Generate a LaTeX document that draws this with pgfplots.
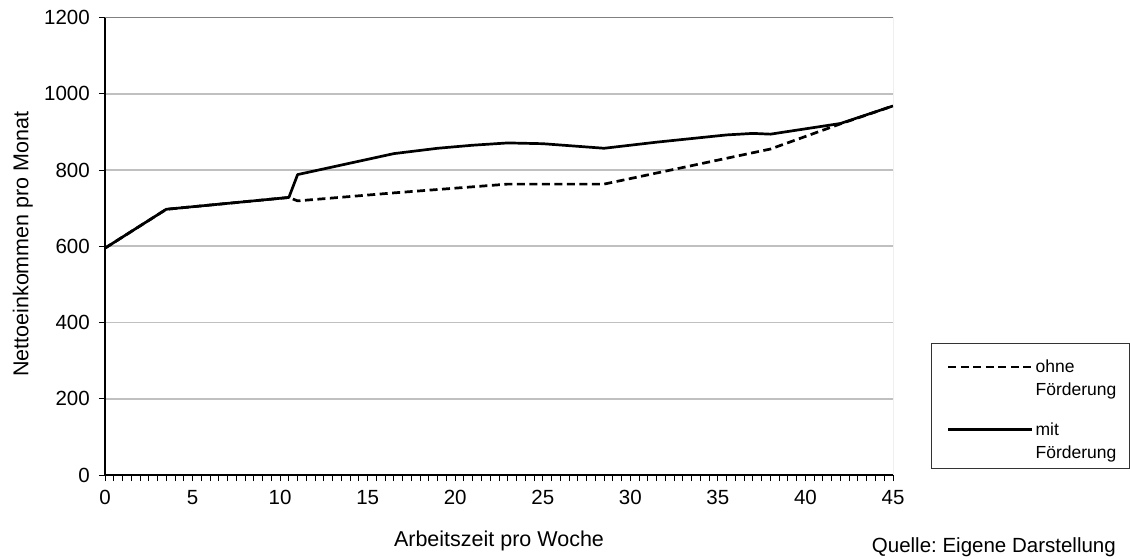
\documentclass[border=0pt]{standalone}
\usepackage{pgfplots}
\pgfplotsset{compat=1.18}
\usepackage{fontspec}
\setmainfont{Liberation Sans}
\definecolor{gridgray}{HTML}{C0C0C0}
\definecolor{boxgray}{HTML}{808080}
\begin{document}
\frenchspacing
\fontsize{20.5}{24.6}\selectfont
\begin{tikzpicture}[x=1pt,y=1pt]
\useasboundingbox (0,0) rectangle (1130,558);
\begin{axis}[
  at={(105pt,83pt)}, anchor=south west,
  scale only axis, width=788pt, height=457.5pt,
  xmin=0, xmax=45, ymin=0, ymax=1200,
  xtick={0,5,...,45}, ytick={0,200,...,1200},
  minor x tick num=9,
  axis x line*=bottom, axis y line*=left,
  axis line style={black, line width=1.3pt, -},
  tick align=outside, major tick length=6pt, minor tick length=6pt,
  every tick/.style={black, line width=1pt},
  ymajorgrids, major grid style={gridgray, line width=1.6pt},
  /pgf/number format/assume math mode=true,
  /pgf/number format/1000 sep={},
  tick label style={font=\fontsize{20.5}{24.6}\selectfont},
  xticklabel style={anchor=north, inner sep=0pt, yshift=-9pt},
  yticklabel style={anchor=east, inner sep=0pt, xshift=-9pt},
  legend style={at={(1.0682,0.2514)}, anchor=north west, draw=none, fill=none,
    inner sep=0pt, font=\fontsize{17.5}{23}\selectfont,
    row sep=24pt, column sep=2pt, cells={anchor=west}, nodes={align=left, inner sep=0pt}},
  legend image code/.code={\draw[#1] (0pt,12.5pt) -- (84pt,12.5pt);},
]
\addplot[black, line width=2.7pt, line join=round, dash pattern=on 8pt off 4.5pt] coordinates {
(0,595) (3.5,697) (10.5,728) (11,719) (16.5,740) (23,763) (28.5,763) (38,855) (42,921) (45,968)
};
\addlegendentry{ohne\\Förderung}
\addplot[black, line width=2.7pt, line join=round] coordinates {
(0,595) (3.5,697) (10.5,728) (11,788) (16.5,843) (19,857) (21,865) (23,871) (25,869) (28.5,857) (31.5,873) (35.5,892) (37,896) (38,894) (42,922) (45,968)
};
\addlegendentry{mit\\Förderung}
\draw[boxgray, line width=1pt] (rel axis cs:0,1) -- (rel axis cs:1,1) -- (rel axis cs:1,0);
\end{axis}
\draw[black!80, line width=0.8pt] (931.7,90) rectangle (1129,214.7);
\node[rotate=90, anchor=base west, inner sep=0pt, font=\fontsize{21.5}{25}\selectfont] at (28.4,181) {Nettoeinkommen pro Monat};
\node[anchor=base, inner sep=0pt, font=\fontsize{21.5}{25}\selectfont] at (499,11.6) {Arbeitszeit pro Woche};
\node[anchor=base east, inner sep=0pt] at (1116,5.3) {Quelle: Eigene Darstellung};
\end{tikzpicture}
\end{document}
